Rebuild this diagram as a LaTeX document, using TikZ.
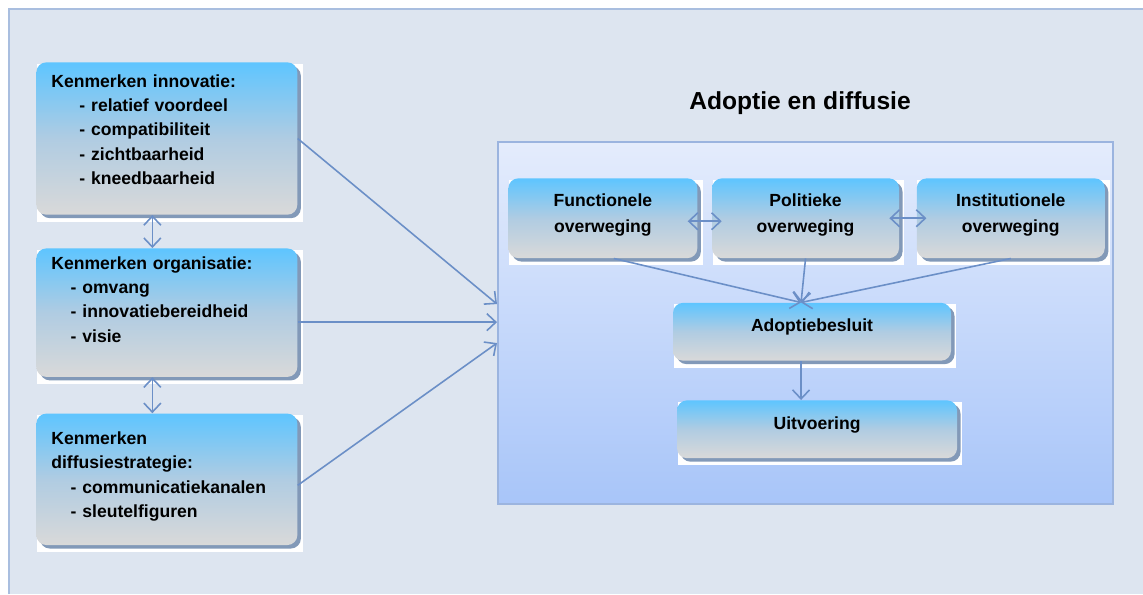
\documentclass[tikz,border=0pt]{standalone}
\usepackage{fontspec}
\setmainfont{Liberation Sans}
\usepackage{tikz}
\usetikzlibrary{positioning, arrows.meta, shadows, calc}

\definecolor{sheetbg}{HTML}{DDE5F0}
\definecolor{sheetline}{HTML}{A9BEDF}
\definecolor{paneltop}{HTML}{E4ECFC}
\definecolor{panelbot}{HTML}{A8C5F9}
\definecolor{panelline}{HTML}{9BB4DF}
\definecolor{boxtop}{HTML}{5EC5FF}
\definecolor{boxmid}{HTML}{B0CCE2}
\definecolor{boxbot}{HTML}{D9D9D9}
\definecolor{boxshadow}{HTML}{8299B8}
\definecolor{linkblue}{HTML}{6B8FC7}

\pgfdeclarelayer{back}
\pgfdeclarelayer{under}
\pgfsetlayers{back,under,main}

\begin{document}
\begin{tikzpicture}[
			factorblock/.style={rectangle, rounded corners=0.2cm, top color=boxtop, bottom color=boxbot, middle color=boxmid,
				general shadow={fill=boxshadow, shadow xshift=0.07cm, shadow yshift=-0.07cm},
				inner xsep=0.3cm, inner ysep=0pt, text width=4.62cm, align=left, font=\fontsize{10}{13.8}\selectfont\bfseries},
			stageblock/.style={rectangle, rounded corners=0.2cm, top color=boxtop, bottom color=boxbot, middle color=boxmid,
				general shadow={fill=boxshadow, shadow xshift=0.07cm, shadow yshift=-0.07cm},
				inner xsep=0.1cm, inner ysep=0pt, align=center, font=\fontsize{10}{14.6}\selectfont\bfseries},
			panelblock/.style={rectangle, top color=paneltop, bottom color=panelbot, draw=panelline, line width=1.2pt, minimum width=12.3cm, minimum height=7.24cm},
			arrow/.style={-{Straight Barb[length=1.8mm, width=3.4mm]}, line width=0.9pt, draw=linkblue},
			dblarrow/.style={{Straight Barb[length=1.8mm, width=3.4mm]}-{Straight Barb[length=1.8mm, width=3.4mm]}, line width=0.9pt, draw=linkblue}
		]
		\useasboundingbox (0,0) rectangle (22.86,-11.88);

		\begin{pgfonlayer}{back}
			\fill[sheetbg] (0.18,-0.18) rectangle (22.86,-11.88);
			\draw[sheetline, line width=1.2pt] (0.18,-11.88) -- (0.18,-0.18) -- (22.86,-0.18);
			\node[panelblock, anchor=north west] (panel) at (9.94,-2.82) {};
		\end{pgfonlayer}

		\node[font=\fontsize{14}{16}\selectfont\bfseries] (title) at (16.0,-2.06) {Adoptie en diffusie};

		% left column
		\node[factorblock, anchor=north west, text height=14.2pt, text depth=72.5pt] (innovatie) at (0.72,-1.24)
			{Kenmerken innovatie:\\ \hspace*{1.6em}- relatief voordeel\\ \hspace*{1.6em}- compatibiliteit\\ \hspace*{1.6em}- zichtbaarheid\\ \hspace*{1.6em}- kneedbaarheid};
		\node[factorblock, below=0.66cm of innovatie, text height=11.9pt, text depth=61.2pt] (organisatie)
			{Kenmerken organisatie:\\ \hspace*{1.1em}- omvang\\ \hspace*{1.1em}- innovatiebereidheid\\ \hspace*{1.1em}- visie};
		\node[factorblock, below=0.72cm of organisatie, text height=17.6pt, text depth=57.2pt] (strategie)
			{Kenmerken\\ diffusiestrategie:\\ \hspace*{1.1em}- communicatiekanalen\\ \hspace*{1.1em}- sleutelfiguren};

		% adoption stages
		\node[stageblock, anchor=north west, text width=3.58cm, text height=16.2pt, text depth=29.2pt] (functioneel) at (10.16,-3.56)
			{Functionele\\ overweging};
		\node[stageblock, right=0.28cm of functioneel, text width=3.54cm, text height=16.2pt, text depth=29.2pt] (politiek)
			{Politieke\\ overweging};
		\node[stageblock, right=0.34cm of politiek, text width=3.56cm, text height=16.2pt, text depth=29.2pt] (institutioneel)
			{Institutionele\\ overweging};
		\node[stageblock, below=0.88cm of politiek, xshift=0.13cm, text width=5.36cm, text height=16.4pt, text depth=16.5pt] (besluit)
			{Adoptiebesluit};
		\node[stageblock, below=0.78cm of besluit, xshift=0.1cm, text width=5.4cm, text height=16.4pt, text depth=16.5pt] (uitvoering)
			{Uitvoering};

		\begin{pgfonlayer}{under}
			\foreach \n in {innovatie,organisatie,strategie,functioneel,politiek,institutioneel,besluit,uitvoering}
				\fill[white] ([xshift=0.02cm,yshift=-0.04cm]\n.north west) rectangle ([xshift=0.1cm,yshift=-0.13cm]\n.south east);
		\end{pgfonlayer}

		\draw[dblarrow] ([xshift=-0.29cm]innovatie.south) -- ([xshift=-0.29cm]innovatie.south |- organisatie.north);
		\draw[dblarrow] ([xshift=-0.29cm]organisatie.south) -- ([xshift=-0.29cm]organisatie.south |- strategie.north);

		\draw[arrow] (innovatie.east) -- ([yshift=0.38cm]panel.west);
		\draw[arrow] ([yshift=-0.19cm]organisatie.east) -- ([yshift=-0.19cm]organisatie.east -| panel.west);
		\draw[arrow] ([yshift=-0.12cm]strategie.east) -- ([yshift=-0.4cm]panel.west);

		\draw[dblarrow] ([xshift=-0.2cm,yshift=-0.06cm]functioneel.east) -- ([xshift=0.2cm,yshift=-0.06cm]politiek.west);
		\draw[dblarrow] ([xshift=-0.2cm]politiek.east) -- ([xshift=0.2cm]institutioneel.west);

		\coordinate (merge) at ([xshift=-0.22cm]besluit.north);
		\draw[arrow] ([xshift=0.22cm]functioneel.south) -- (merge);
		\draw[arrow] (politiek.south) -- (merge);
		\draw[arrow] (institutioneel.south) -- (merge);
		\draw[arrow] ([xshift=-0.22cm]besluit.south) -- ([xshift=-0.22cm]besluit.south |- uitvoering.north);

	\end{tikzpicture}
\end{document}
